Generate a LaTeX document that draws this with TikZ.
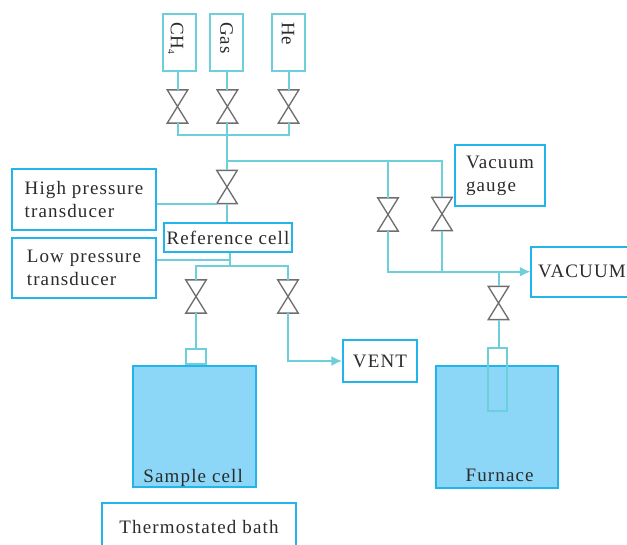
\documentclass[tikz,border=0pt]{standalone}
\usepackage{fontspec}
\setmainfont[LetterSpace=6]{Liberation Serif}
\usetikzlibrary{positioning,arrows.meta}
\definecolor{pipecol}{HTML}{6CCFD9}
\definecolor{boxcol}{HTML}{22B5EC}
\definecolor{tankcol}{HTML}{8CD7F7}
\definecolor{valvecol}{HTML}{6E6E6E}
\definecolor{inkcol}{HTML}{2B2B2B}
\tikzset{
    pipe/.style={draw=pipecol, line width=1.5pt},
    arrowpipe/.style={pipe, -{Latex[length=8pt,width=7.5pt]}},
    infobox/.style={draw=boxcol, line width=1.3pt, fill=white, text=inkcol,
        inner sep=0pt, align=left},
    gasbox/.style={draw=pipecol, line width=1.5pt, rotate=-90, text=inkcol,
        minimum height=24.75pt, inner xsep=6pt, inner ysep=0pt,
        text width=30.75pt, align=left},
    tank/.style={draw=boxcol, fill=tankcol, line width=1.3pt,
        minimum width=92pt, minimum height=91pt, inner sep=0pt},
    valve/.style={minimum width=15pt, minimum height=24.5pt, inner sep=0pt,
        append after command={\pgfextra{\draw[valvecol, line width=1pt, line join=miter]
            (\tikzlastnode.north west) -- (\tikzlastnode.south east)
            -- (\tikzlastnode.south west) -- (\tikzlastnode.north east) -- cycle;}}},
}
\begin{document}
\begin{tikzpicture}[x=.75pt, y=-.75pt, font=\fontsize{14.25}{17}\selectfont]
\useasboundingbox (0,0) rectangle (627,544);
% bottles and their valves
\node[gasbox] (ch4) at (179.5,42.5)
    {\raisebox{-6.5pt}[0pt][0pt]{CH\raisebox{-2pt}{\fontsize{7}{7}\selectfont 4}}};
\node[gasbox] (gas) at (226.5,42.5) {Gas};
\node[gasbox] (he) at (288,42.5) {He};
\node[valve] (vch4) at (177.5,106.5) {};
\node[valve, right=22pt of vch4] (vgas) {};
\node[valve, right=30.5pt of vgas] (vhe) {};
\node[valve] (vmain) at (227,187) {};
% boxes on the left
\node[infobox, minimum width=108pt, minimum height=45.5pt] (high) at (84,199.5)
    {High pressure\\transducer};
\node[infobox, minimum width=108pt, minimum height=45pt] (low) at (84,268)
    {Low pressure\\transducer};
\node[infobox, minimum width=96pt, minimum height=21.5pt] (ref) at (228,237.5)
    {Reference cell};
% outlet side
\node[valve] (vsample) at (196,296.5) {};
\node[valve] (vvent) at (288,296.5) {};
\node[infobox, minimum width=55.5pt, minimum height=31pt] (vent) at (380,361) {VENT};
\node[tank] (sample) at (194.5,426.5) {};
\node[anchor=base, yshift=4.5pt, xshift=-1pt, inner sep=0pt, text=inkcol] (samplelabel)
    at (sample.south) {Sample cell};
\node[draw=pipecol, line width=1.5pt, minimum width=15pt, minimum height=11pt,
    inner sep=0pt, anchor=south] (neck) at (sample.north -| vsample) {};
\node[infobox, minimum width=146pt, minimum height=36pt] (bath) at (199,527)
    {Thermostated bath};
% vacuum side
\node[valve] (vleft) at (388,214.5) {};
\node[valve] (vright) at (442,214) {};
\node[infobox, minimum width=68pt, minimum height=45.5pt] (gauge) at (500,175.5)
    {Vacuum\\gauge};
\node[infobox, minimum width=76pt, minimum height=37.5pt] (vacuum) at (582,271.7) {VACUUM};
\node[valve] (vfurnace) at (498.5,303) {};
\node[tank] (furnace) at (497,427) {};
\node[anchor=base, yshift=5pt, xshift=2pt, inner sep=0pt, text=inkcol] (furnacelabel)
    at (furnace.south) {Furnace};
\node[draw=pipecol, line width=1.5pt, minimum width=14pt, minimum height=47.5pt,
    inner sep=0pt] (tube) at (497.5,379.5) {};
% junctions
\coordinate (topbus) at (227,135);
\coordinate (split) at (227,161);
\coordinate (lowtee) at (230,259.5);
\coordinate (lowbus) at (230,266);
\coordinate (vacbus) at (442,271.7);
\coordinate (furntee) at (498.5,271.7);
\draw[pipe]
(vch4.north) -- (vch4.north |- ch4.east)
(vgas.north) -- (vgas.north |- gas.east)
(vhe.north) -- (vhe.north |- he.east)
(vch4.south) |- (topbus) -| (vhe.south)
(vgas.south) -- (topbus -| vgas.south)
(topbus) -- (vmain.north)
(split) -| (vright.north)
(split -| vleft) -- (vleft.north)
(vmain.south) -- (ref.north -| vmain.south)
(high.east |- vmain.south) -- (vmain.south west)
(lowtee |- ref.south) -- (lowbus)
(low.east |- lowtee) -- (lowtee)
(vsample.north) |- (lowbus) -| (vvent.north)
(vsample.south) -- (neck.north)
(vleft.south) |- (vacbus)
(vright.south) -- (vacbus)
(furntee) -- (vfurnace.north)
(vfurnace.south) -- (tube.north -| vfurnace.south)
;
\draw[arrowpipe] (vacbus) -- (vacuum.west);
\draw[arrowpipe] (vvent.south) |- (vent.west);
\end{tikzpicture}
\end{document}
